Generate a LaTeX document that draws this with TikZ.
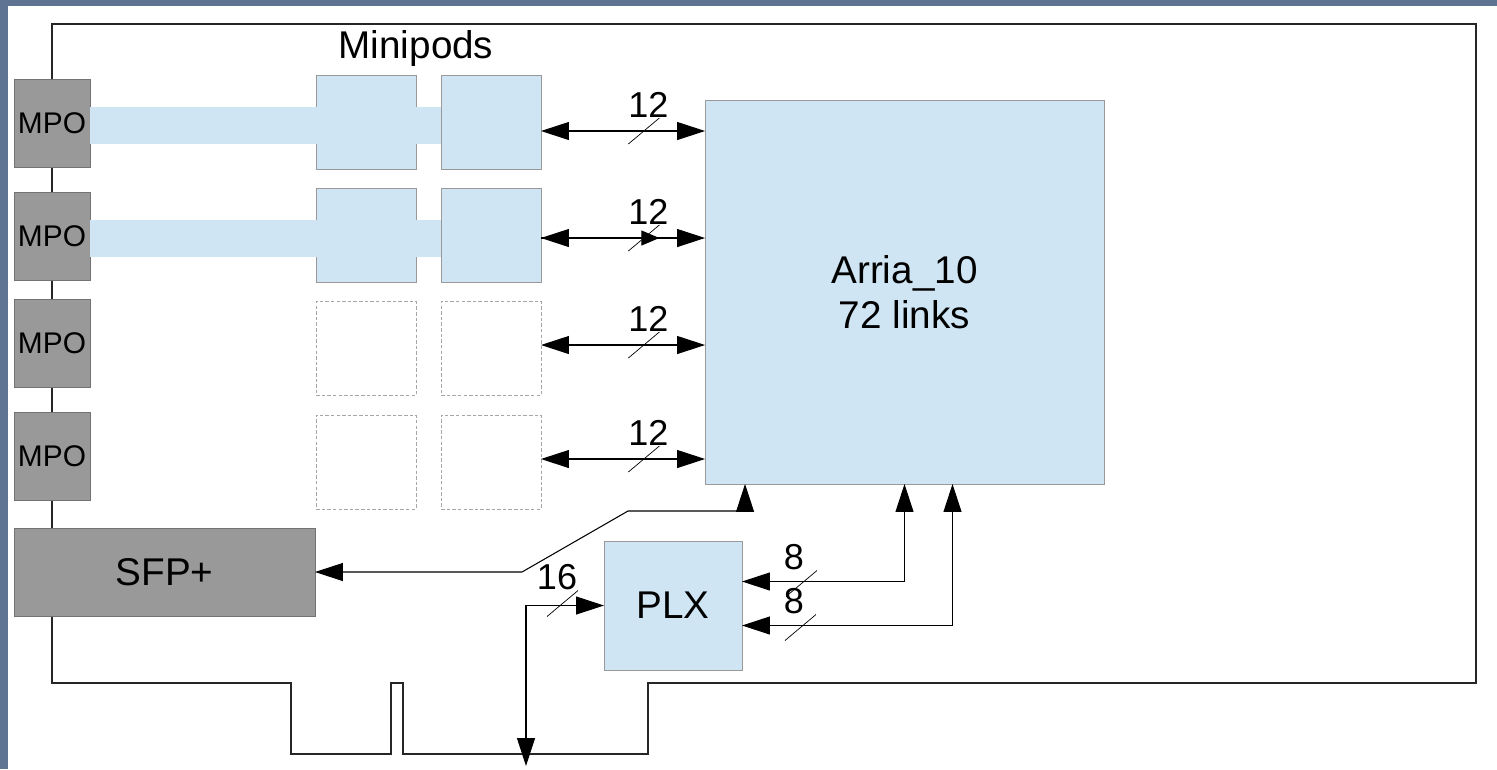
\documentclass[tikz,border=0pt]{standalone}
\usepackage{fontspec}
\setmainfont{Liberation Sans}
\usepackage{tikz}
\usetikzlibrary{arrows.meta, calc}
\definecolor{slate}{HTML}{5E7492}
\definecolor{podblue}{HTML}{CFE5F3}
\definecolor{mpogray}{HTML}{999999}

\begin{document}
\begin{tikzpicture}[x=0.02cm, y=-0.02cm,
  mpo/.style={draw=gray!90!black, fill=mpogray, minimum width=1.52cm, minimum height=1.76cm,
              inner sep=0pt, outer sep=0pt, font=\fontsize{17}{20}\selectfont},
  pod/.style={draw=gray!80, fill=podblue, minimum width=2cm, minimum height=1.88cm,
              inner sep=0pt, outer sep=0pt},
  nopod/.style={pod, fill=white, draw=gray!70, dashed, dash pattern=on 2pt off 1.2pt},
  chip/.style={draw=gray!80, fill=podblue, inner sep=0pt, outer sep=0pt, align=center,
               font=\fontsize{22}{25.5}\selectfont},
  board/.style={line width=0.6pt, color=black!85},
  lnk/.style={{Triangle[length=0.56cm,width=0.36cm]}-{Triangle[length=0.56cm,width=0.36cm]},
              line width=0.6pt},
  bus/.style={line width=0.4pt},
  num/.style={font=\fontsize{20.5}{24}\selectfont, inner sep=0pt}
]
  \useasboundingbox (0,0) rectangle (1497,769);
  \fill[slate] (0,0) rectangle (1497,769);
  \fill[white] (8,6) rectangle (1497,769);

  % ── board outline ───────────────────────────────────────────────────────
  \draw[board] (52,683) -- (52,24) -- (1476,24) -- (1476,683) -- (648,683) -- (648,754)
    -- (403,754) -- (403,683) -- (391,683) -- (391,754) -- (291,754) -- (291,683) -- cycle;

  % ── front panel connectors ──────────────────────────────────────────────
  \node[mpo] (mpo1) at (52,123) {MPO};
  \node[mpo] (mpo2) at (52,236) {MPO};
  \node[mpo] (mpo3) at (52,343) {MPO};
  \node[mpo] (mpo4) at (52,456) {MPO};
  \node[mpo, minimum width=6.02cm, font=\fontsize{22}{25.5}\selectfont] (sfp) at (164.5,572) {SFP+};

  % ── minipods ────────────────────────────────────────────────────────────
  \node[font=\fontsize{22}{25.5}\selectfont] (mplabel) at (416,48) {Minipods};
  \node[pod]   (pod1a) at (366,122)   {};
  \node[pod]   (pod1b) at (491,122)   {};
  \node[pod]   (pod2a) at (366,235.5) {};
  \node[pod]   (pod2b) at (491,235.5) {};
  \node[nopod] (pod3a) at (366,348.5) {};
  \node[nopod] (pod3b) at (491,348.5) {};
  \node[nopod] (pod4a) at (366,462)   {};
  \node[nopod] (pod4b) at (491,462)   {};

  % fibre ribbons
  \fill[podblue] (90,107) rectangle (441,144);
  \fill[podblue] (90,220) rectangle (441,257);

  % ── chips ───────────────────────────────────────────────────────────────
  \node[chip, minimum width=7.98cm, minimum height=7.68cm] (arria) at (904.5,292) {Arria\_10\\72 links};
  \node[chip, minimum width=2.76cm, minimum height=2.58cm] (plx) at (673,605.5) {PLX};

  % ── links ───────────────────────────────────────────────────────────────
  \foreach \r/\dy in {1/9, 2/2.5, 3/-3.5, 4/-3}
    \draw[lnk] ($(pod\r b.east)+(0,\dy)$) -- coordinate[pos=0.63] (s\r)
      ($(pod\r b.east -| arria.west)+(0,\dy)$);
  \coordinate (s2tip) at ($(s2)+(15,0)$);
  \draw[-{Triangle[length=0.36cm,width=0.3cm]}, line width=0.6pt] ($(pod2b.east)+(0,2.5)$) -- (s2tip);

  \coordinate (k1) at (628,511);
  \coordinate (k2) at (522,572);
  \draw[lnk] ($(arria.south west)+(40,0)$) |- (k1) -- (k2) -- (sfp.east);

  \coordinate (pcie) at (526,766);
  \draw[lnk] (pcie) |- (plx.west);
  \draw[lnk] (arria.south) |- ($(plx.east)+(0,-24)$);
  \draw[lnk] ($(arria.south)+(48,0)$) |- ($(plx.east)+(0,20)$);

  % bus widths
  \coordinate (s5) at ($(plx.west)+(-41,-2)$);
  \coordinate (s6) at ($(plx.east)+(60,-22)$);
  \coordinate (s7) at ($(plx.east)+(59,22)$);
  \foreach \s/\t/\dx in {s1/12/4, s2/12/4, s3/12/4, s4/12/4, s5/16/-6, s6/8/-8, s7/8/-7} {
    \draw[bus] ($(\s)+(-16,13)$) -- ++(31,-26);
    \node[num] at ($(\s)+(\dx,-26)$) {\t};
  }
\end{tikzpicture}
\end{document}
